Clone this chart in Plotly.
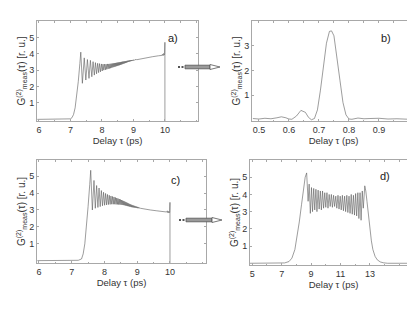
import plotly.graph_objects as go

W, H = 415, 312

# ---------------- data ----------------
# panel a) measured G2 (ps, r.u.)
a_x = [5.95, 6.5, 6.9, 7.0, 7.05, 7.1, 7.15, 7.2, 7.25, 7.3, 7.33,
       7.38, 7.44, 7.49, 7.54, 7.59, 7.635, 7.68, 7.72, 7.76, 7.795, 7.83, 7.865, 7.895, 7.925,
       7.955, 7.985, 8.01, 8.035, 8.06, 8.085, 8.11, 8.132, 8.155, 8.177, 8.198, 8.218, 8.238,
       8.257, 8.276, 8.294, 8.312, 8.33, 8.347, 8.364, 8.38, 8.396, 8.412, 8.427, 8.442, 8.457,
       8.472, 8.486, 8.5, 8.514, 8.528, 8.542, 8.556, 8.57, 8.584, 8.598, 8.612, 8.626, 8.64,
       8.654, 8.668, 8.682, 8.696, 8.71, 8.724, 8.738, 8.752, 8.766, 8.78, 8.794, 8.808, 8.822,
       8.836, 8.85, 8.864, 8.878, 8.892, 8.906, 8.92, 8.934, 8.948, 8.962, 8.976, 8.99, 9.004,
       9.018, 9.032, 9.05, 9.07, 9.09, 9.11, 9.2, 9.4, 9.6, 9.8, 9.9, 9.92, 9.94, 9.96, 9.975,
       9.99, 10.0, 10.0]
a_y = [0, 0, 0, 0.03, 0.1, 0.3, 0.7, 1.4, 2.3, 3.4, 4.1,
       2.2, 3.75, 2.4, 3.65, 2.5, 3.6, 2.6, 3.52, 2.7, 3.46, 2.78, 3.42, 2.85, 3.4,
       2.9, 3.38, 2.95, 3.37, 3.0, 3.37, 3.02, 3.37, 3.05, 3.38, 3.08, 3.38, 3.1,
       3.39, 3.12, 3.4, 3.15, 3.41, 3.17, 3.42, 3.19, 3.43, 3.21, 3.44, 3.23, 3.45,
       3.25, 3.46, 3.27, 3.47, 3.29, 3.48, 3.3, 3.49, 3.32, 3.5, 3.34, 3.51, 3.36,
       3.52, 3.38, 3.53, 3.4, 3.54, 3.42, 3.55, 3.44, 3.56, 3.46, 3.57, 3.48, 3.58,
       3.5, 3.59, 3.51, 3.6, 3.53, 3.61, 3.55, 3.62, 3.56, 3.62, 3.58, 3.63, 3.59,
       3.64, 3.6, 3.64, 3.62, 3.65, 3.64, 3.68, 3.75, 3.82, 3.88, 3.9, 3.97, 3.88, 4.02, 3.92,
       4.0, 4.7, -0.1]

# panel b) retrieved intensity
b_x = [0.48, 0.5, 0.52, 0.54, 0.56, 0.575, 0.59, 0.6, 0.61, 0.625, 0.64, 0.655, 0.665,
       0.675, 0.685, 0.695, 0.705, 0.715, 0.725, 0.735, 0.742, 0.75, 0.76, 0.77, 0.78,
       0.79, 0.8, 0.81, 0.83, 0.85, 0.87, 0.9, 0.93, 0.96, 1.0, 1.02]
b_y = [0.05, 0.03, 0.06, 0.04, 0.08, 0.12, 0.08, 0.03, 0.02, 0.15, 0.38, 0.3, 0.1,
       0.0, 0.05, 0.4, 1.2, 2.2, 3.1, 3.58, 3.6, 3.4, 2.6, 1.6, 0.7,
       0.2, 0.03, 0.02, 0.07, 0.04, 0.05, 0.06, 0.03, 0.04, 0.02, 0.03]

# panel c) measured G2
c_x = [5.95, 6.5, 7.0, 7.2, 7.3, 7.35, 7.4, 7.45, 7.5, 7.55, 7.58,
       7.63, 7.68, 7.72, 7.76, 7.8, 7.835, 7.87, 7.905, 7.94, 7.972, 8.004, 8.034, 8.064,
       8.092, 8.12, 8.147, 8.173, 8.198, 8.222, 8.246, 8.269, 8.291, 8.313, 8.334, 8.355,
       8.375, 8.395, 8.414, 8.433, 8.452, 8.47, 8.488, 8.506, 8.523, 8.54, 8.557, 8.574,
       8.59, 8.606, 8.622, 8.638, 8.654, 8.67, 8.685, 8.7, 8.715, 8.73, 8.745, 8.76, 8.775,
       8.79, 8.805, 8.82, 8.835, 8.85, 8.865, 8.88, 8.895, 8.91, 8.925, 8.94, 8.955, 8.97,
       8.985, 9.0, 9.015, 9.03, 9.045, 9.06, 9.08, 9.1, 9.2, 9.4, 9.6, 9.8, 9.9, 9.92, 9.94,
       9.96, 9.975, 9.99, 10.0, 10.0]
c_y = [0, 0, 0, 0.02, 0.1, 0.4, 1.0, 2.0, 3.2, 4.5, 5.35,
       3.0, 4.75, 3.1, 4.45, 3.15, 4.3, 3.2, 4.15, 3.25, 4.05, 3.28, 3.98, 3.3,
       3.92, 3.32, 3.87, 3.33, 3.83, 3.34, 3.8, 3.34, 3.77, 3.34, 3.74, 3.33,
       3.71, 3.33, 3.68, 3.32, 3.65, 3.32, 3.62, 3.31, 3.59, 3.3, 3.56, 3.29,
       3.53, 3.28, 3.5, 3.26, 3.47, 3.25, 3.44, 3.23, 3.41, 3.22, 3.38, 3.2, 3.35,
       3.19, 3.33, 3.17, 3.3, 3.16, 3.28, 3.15, 3.26, 3.14, 3.24, 3.13, 3.22, 3.12,
       3.2, 3.11, 3.18, 3.1, 3.16, 3.1, 3.13, 3.1, 3.06, 3.0, 2.95, 2.9, 2.88, 2.95, 2.82,
       2.92, 2.83, 2.86, 3.45, -0.15]

# panel d) simulated G2
d_x = [4.85, 6.5, 7.2, 7.5, 7.7, 7.9, 8.05, 8.2, 8.35, 8.5, 8.6, 8.7,
       8.8, 8.87, 8.95, 9.03, 9.1, 9.18, 9.25, 9.33, 9.4, 9.48, 9.55, 9.63, 9.7, 9.78,
       9.85, 9.93, 10.0, 10.08, 10.15, 10.23, 10.3, 10.38, 10.45, 10.53, 10.6, 10.68,
       10.75, 10.83, 10.9, 10.98, 11.05, 11.13, 11.2, 11.28, 11.35, 11.43, 11.5, 11.58,
       11.65, 11.73, 11.8, 11.88, 11.95, 12.03, 12.1, 12.18, 12.25, 12.33, 12.4, 12.48,
       12.55, 12.65, 12.72, 12.8, 12.9, 13.0, 13.1, 13.2, 13.35, 13.5, 13.7, 13.9, 14.2,
       15.0, 16.2]
d_y = [0, 0, 0.02, 0.1, 0.3, 0.8, 1.5, 2.4, 3.4, 4.4, 5.0, 5.25,
       3.6, 4.6, 2.9, 4.4, 3.0, 4.35, 3.1, 4.3, 3.0, 4.25, 3.15, 4.2, 3.1, 4.2,
       3.2, 4.1, 3.25, 4.1, 3.2, 4.0, 3.3, 4.0, 3.25, 3.95, 3.3, 3.9,
       3.2, 3.95, 3.15, 3.9, 3.1, 3.95, 3.05, 3.9, 3.0, 3.95, 2.95, 3.9,
       2.9, 4.0, 2.85, 3.95, 2.8, 4.05, 2.75, 4.1, 2.6, 4.1, 2.5, 4.2,
       3.2, 4.5, 4.2, 3.6, 2.7, 1.9, 1.3, 0.8, 0.4, 0.2, 0.08, 0.03, 0.0,
       0.0, 0.0]

# axis ranges and tick labels
a_range, a_ticks = [5.94, 11.05], [6, 7, 8, 9, 10]
b_range, b_ticks = [0.477, 1.02], [0.5, 0.6, 0.7, 0.8, 0.9]
c_range, c_ticks = [5.94, 11.1], [6, 7, 8, 9, 10]
d_range, d_ticks = [4.85, 16.2], [5, 7, 9, 11, 13]
ya_range, yb_range, yc_range, yd_range = [-0.1, 6.0], [-0.05, 4.0], [-0.14, 5.96], [-0.1, 6.0]
ya_ticks, yb_ticks = [1, 2, 3, 4, 5], [1, 2, 3]

# ---------------- figure ----------------
def px(x):
    return x / W

def py(y):
    return 1 - y / H

FONT = "Liberation Sans, Arial, sans-serif"
LINE = "#5a5a5a"
FRAME = "#a8a8a8"
YTITLE = "G<sup>(2)</sup><sub>meas</sub>(τ) [r. u.]"

fig = go.Figure()
panels = [
    ("x", "y", a_x, a_y),
    ("x2", "y2", b_x, b_y),
    ("x3", "y3", c_x, c_y),
    ("x4", "y4", d_x, d_y),
]
for xa, ya, xs, ys in panels:
    fig.add_trace(go.Scatter(x=xs, y=ys, xaxis=xa, yaxis=ya, mode="lines",
                             line=dict(color=LINE, width=0.6), showlegend=False,
                             hoverinfo="skip"))

def xaxis(dom, rng, ticks, anchor, dtick_minor):
    return dict(domain=dom, range=rng, tickvals=ticks, ticktext=[str(t) for t in ticks],
                anchor=anchor, showgrid=False, zeroline=False, showline=True, automargin=False,
                linecolor=FRAME, linewidth=1, mirror="ticks", ticks="inside",
                ticklen=2, tickcolor=FRAME, tickwidth=1,
                minor=dict(ticks="inside", ticklen=1.5, tickcolor=FRAME, dtick=dtick_minor),
                tickfont=dict(family=FONT, size=9, color="#333"),
                title=dict(text="Delay τ (ps)", font=dict(family=FONT, size=9.5, color="#333"),
                           standoff=2))

def yaxis(dom, rng, ticks, anchor):
    return dict(domain=dom, range=rng, tickvals=ticks, ticktext=[str(t) for t in ticks],
                anchor=anchor, showgrid=False, zeroline=False, showline=True, automargin=False,
                linecolor=FRAME, linewidth=1, mirror="ticks", ticks="inside",
                ticklen=2, tickcolor=FRAME, tickwidth=1,
                tickfont=dict(family=FONT, size=9, color="#333"),
                title=dict(text=YTITLE, font=dict(family=FONT, size=10, color="#333"),
                           standoff=1))

fig.update_layout(
    width=W, height=H, margin=dict(l=0, r=0, t=0, b=0, pad=0, autoexpand=False),
    paper_bgcolor="white", plot_bgcolor="white",
    xaxis=xaxis([px(29), px(190)], a_range, a_ticks, "y", 0.5),
    yaxis=yaxis([py(113), py(13)], ya_range, ya_ticks, "x"),
    xaxis2=xaxis([px(244), px(407)], b_range, b_ticks, "y2", 0.05),
    yaxis2=yaxis([py(113), py(13)], yb_range, yb_ticks, "x2"),
    xaxis3=xaxis([px(29), px(198)], c_range, c_ticks, "y3", 0.5),
    yaxis3=yaxis([py(255), py(152)], yc_range, ya_ticks, "x3"),
    xaxis4=xaxis([px(242), px(409)], d_range, d_ticks, "y4", 1),
    yaxis4=yaxis([py(257), py(152)], yd_range, ya_ticks, "x4"),
)

labels = [("a)", 165, 22), ("b)", 385, 22), ("c)", 167, 172), ("d)", 384, 168)]
for t, x, y in labels:
    fig.add_annotation(text=t, x=px(x), y=py(y), xref="paper", yref="paper",
                       showarrow=False, font=dict(family=FONT, size=11, color="#222"))

# hollow arrows between panels
def arrow(x0, x1, yc):
    hx = x1 - 10
    fig.add_shape(type="rect", x0=px(x0), x1=px(x0 + 2), y0=py(yc + 1), y1=py(yc - 1),
                  xref="paper", yref="paper", fillcolor="#555", line=dict(width=0))
    fig.add_shape(type="rect", x0=px(x0 + 3.5), x1=px(x0 + 5.5), y0=py(yc + 1), y1=py(yc - 1),
                  xref="paper", yref="paper", fillcolor="#555", line=dict(width=0))
    fig.add_shape(type="rect", x0=px(x0 + 7), x1=px(hx), y0=py(yc + 1.8), y1=py(yc - 1.8),
                  xref="paper", yref="paper", fillcolor="#9a9a9a", line=dict(color="#555", width=0.8))
    path = (f"M {px(hx)},{py(yc - 2.5)} L {px(x1)},{py(yc)} L {px(hx)},{py(yc + 2.5)} Z")
    fig.add_shape(type="path", path=path, xref="paper", yref="paper",
                  fillcolor="white", line=dict(color="#555", width=0.8))

arrow(170, 212, 59)
arrow(171, 214, 212)

fig.write_html("out.html")
